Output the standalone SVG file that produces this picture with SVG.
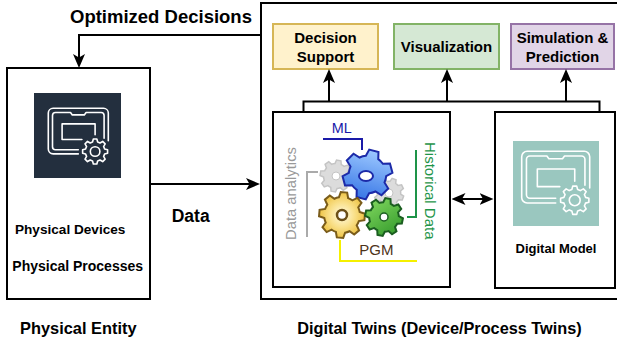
<svg xmlns="http://www.w3.org/2000/svg" xmlns:xlink="http://www.w3.org/1999/xlink" width="617" height="341" viewBox="0 0 617 341">
  <style>
    text { font-family: "Liberation Sans", Arial, sans-serif; }
    .b { font-weight: bold; fill: #000; }
    .box { fill: #fff; stroke: #000; stroke-width: 2; }
    .edge { fill: none; stroke: #000; stroke-width: 2; }
    .arrow { marker-end: url(#arr); }
    .tag { fill: none; stroke-width: 2; }
    #devIcon * { vector-effect: non-scaling-stroke; }
  </style>
  <defs>
    <marker id="arr" viewBox="0 0 14 12" refX="10" refY="6" markerWidth="14" markerHeight="12" markerUnits="userSpaceOnUse" orient="auto-start-reverse">
      <path d="M0,0 L14,6 L0,12 L3.5,6 Z" fill="#000"/>
    </marker>
    <!-- gear outlines, radius 100 -->
    <path id="g6" vector-effect="non-scaling-stroke" d="M-25.65,-70.48 L-19.08,-98.16 L19.08,-98.16 L25.65,-70.48 A75,75 0 0 1 48.21,-57.45 L75.47,-65.61 L94.55,-32.56 L73.86,-13.02 A75,75 0 0 1 73.86,13.02 L94.55,32.56 L75.47,65.61 L48.21,57.45 A75,75 0 0 1 25.65,70.48 L19.08,98.16 L-19.08,98.16 L-25.65,70.48 A75,75 0 0 1 -48.21,57.45 L-75.47,65.61 L-94.55,32.56 L-73.86,13.02 A75,75 0 0 1 -73.86,-13.02 L-94.55,-32.56 L-75.47,-65.61 L-48.21,-57.45 A75,75 0 0 1 -25.65,-70.48 Z"/>
    <path id="g8" vector-effect="non-scaling-stroke" d="M-20.19,-75.34 L-13.92,-99.03 L13.92,-99.03 L20.19,-75.34 A78,78 0 0 1 39,-67.55 L60.18,-79.86 L79.86,-60.18 L67.55,-39 A78,78 0 0 1 75.34,-20.19 L99.03,-13.92 L99.03,13.92 L75.34,20.19 A78,78 0 0 1 67.55,39 L79.86,60.18 L60.18,79.86 L39,67.55 A78,78 0 0 1 20.19,75.34 L13.92,99.03 L-13.92,99.03 L-20.19,75.34 A78,78 0 0 1 -39,67.55 L-60.18,79.86 L-79.86,60.18 L-67.55,39 A78,78 0 0 1 -75.34,20.19 L-99.03,13.92 L-99.03,-13.92 L-75.34,-20.19 A78,78 0 0 1 -67.55,-39 L-79.86,-60.18 L-60.18,-79.86 L-39,-67.55 A78,78 0 0 1 -20.19,-75.34 Z"/>
    <linearGradient id="blueFill" x1="0" y1="0" x2="0" y2="1">
      <stop offset="0" stop-color="#9cc8ff"/>
      <stop offset="1" stop-color="#3a78e6"/>
    </linearGradient>
    <radialGradient id="yellowFill" cx="0.5" cy="0.5" r="0.5">
      <stop offset="0" stop-color="#fffbe2"/>
      <stop offset="0.55" stop-color="#f9e08a"/>
      <stop offset="1" stop-color="#eec447"/>
    </radialGradient>
    <linearGradient id="greenFill" x1="0" y1="0" x2="1" y2="1">
      <stop offset="0" stop-color="#86dc62"/>
      <stop offset="1" stop-color="#2e9528"/>
    </linearGradient>
    <!-- device-with-gear pictogram, frame 100 x 76 -->
    <g id="devIcon" fill="none" stroke="#fff" stroke-width="1.6" stroke-linecap="round" stroke-linejoin="round">
      <path d="M50,76 H8 A8,8 0 0 1 0,68 V8 A8,8 0 0 1 8,0 H92 A8,8 0 0 1 100,8 V54"/>
      <path d="M50,69 H12 A5,5 0 0 1 7,64 V12 A5,5 0 0 1 12,7 H37 L40,11 H60 L63,7 H88 A5,5 0 0 1 93,12 V50"/>
      <path d="M56,52 H23 V26 H78 V44"/>
      <use xlink:href="#g8" transform="translate(78,72) scale(0.21)"/>
      <circle cx="78" cy="72" r="8"/>
    </g>
  </defs>

  <!-- physical side -->
  <g id="physical-entity">
    <rect class="box" x="7" y="68" width="143" height="231"/>
    <rect x="34" y="93" width="87" height="85" fill="#232f3e"/>
    <use xlink:href="#devIcon" transform="translate(48.3,108.3) scale(0.6)"/>
    <text class="b" x="15" y="234" font-size="13.6">Physical Devices</text>
    <text class="b" x="12.3" y="271.3" font-size="14">Physical Processes</text>
  </g>
  <text class="b" x="20" y="334" font-size="16.4">Physical Entity</text>

  <!-- digital twin container -->
  <g id="digital-twins">
    <rect class="box" x="261" y="3" width="362" height="296"/>
  </g>
  <text class="b" x="297.3" y="334" font-size="16.3">Digital Twins (Device/Process Twins)</text>

  <g id="decision-support">
    <rect x="273" y="24" width="105" height="45" fill="#fff2cc" stroke="#d6b656" stroke-width="2"/>
    <text class="b" x="325.5" y="43.3" font-size="15" text-anchor="middle">Decision</text>
    <text class="b" x="325.5" y="61.7" font-size="15" text-anchor="middle">Support</text>
  </g>
  <g id="visualization">
    <rect x="394" y="24" width="105" height="45" fill="#d5e8d4" stroke="#82b366" stroke-width="2"/>
    <text class="b" x="446.5" y="52.3" font-size="15" text-anchor="middle">Visualization</text>
  </g>
  <g id="simulation-prediction">
    <rect x="511" y="24" width="103" height="45" fill="#e1d5e7" stroke="#9673a6" stroke-width="2"/>
    <text class="b" x="562.5" y="43.3" font-size="15" text-anchor="middle">Simulation &amp;</text>
    <text class="b" x="562.5" y="61.7" font-size="15" text-anchor="middle">Prediction</text>
  </g>

  <g id="analytics">
    <rect class="box" x="273" y="112" width="177" height="175"/>
    <!-- gear cluster -->
    <g>
      <use xlink:href="#g8" transform="translate(336,176) scale(0.16) rotate(10)" fill="#dcdcdc" stroke="#c4c4c4" stroke-width="1.5"/>
      <circle cx="336" cy="176" r="4" fill="#fff" stroke="#c4c4c4"/>
      <use xlink:href="#g8" transform="translate(389,193) scale(0.15) rotate(20)" fill="#dcdcdc" stroke="#c4c4c4" stroke-width="1.5"/>
      <circle cx="389" cy="193" r="4" fill="#fff" stroke="#c4c4c4"/>
      <use xlink:href="#g6" transform="translate(367.5,174.5) scale(0.25) rotate(15)" fill="url(#blueFill)" stroke="#1c2aa8" stroke-width="2"/>
      <ellipse cx="366" cy="176" rx="7" ry="5" fill="#fff" stroke="#1c2aa8" stroke-width="2"/>
      <use xlink:href="#g8" transform="translate(342,215) scale(0.23) rotate(5)" fill="url(#yellowFill)" stroke="#7a5c1a" stroke-width="2"/>
      <circle cx="342" cy="215" r="5" fill="#fff" stroke="#6b4f17" stroke-width="2.5"/>
      <use xlink:href="#g8" transform="translate(384,217) scale(0.19) rotate(12)" fill="url(#greenFill)" stroke="#1b5e20" stroke-width="2"/>
      <circle cx="384" cy="217" r="4" fill="#fff" stroke="#1b5e20" stroke-width="1.5"/>
    </g>
    <!-- technique tags -->
    <path class="tag" stroke="#1a1aa8" d="M323,139 H362 V150"/>
    <text x="331.7" y="133.3" font-size="14.4" fill="#1a1aa8">ML</text>
    <path class="tag" stroke="#1e9448" d="M416,150 V217 H407"/>
    <text transform="translate(425,142) rotate(90)" font-size="15" fill="#1e9448">Historical Data</text>
    <path class="tag" stroke="#aaaaaa" d="M318,172 H307 V237"/>
    <text transform="translate(296,240) rotate(-90)" font-size="14.8" fill="#999999">Data analytics</text>
    <path class="tag" stroke="#f5f000" d="M340,240 V261 H417"/>
    <text x="359.3" y="255" font-size="15" fill="#4d3319">PGM</text>
  </g>

  <g id="digital-model">
    <rect class="box" x="495" y="112" width="120" height="176"/>
    <rect x="513" y="141" width="86" height="85" fill="#9ac7bf"/>
    <use xlink:href="#devIcon" transform="translate(521.7,151.3) scale(0.68)"/>
    <text class="b" x="556" y="252.7" font-size="13" text-anchor="middle">Digital Model</text>
  </g>

  <!-- connectors -->
  <g id="connectors">
    <path class="edge arrow" d="M261,35 H79 V64"/>
    <text class="b" x="70" y="22.7" font-size="18.5">Optimized Decisions</text>
    <path class="edge arrow" d="M150,184 H256"/>
    <text class="b" x="171.7" y="221.7" font-size="17.5">Data</text>
    <path class="edge" d="M303.5,112 V101.5 H599.5 V112"/>
    <path class="edge arrow" d="M329,101.5 V73"/>
    <path class="edge arrow" d="M447,101.5 V73"/>
    <path class="edge arrow" d="M566,101.5 V73"/>
    <path class="edge" d="M455.5,199 H489.5" marker-start="url(#arr)" marker-end="url(#arr)"/>
  </g>
</svg>
